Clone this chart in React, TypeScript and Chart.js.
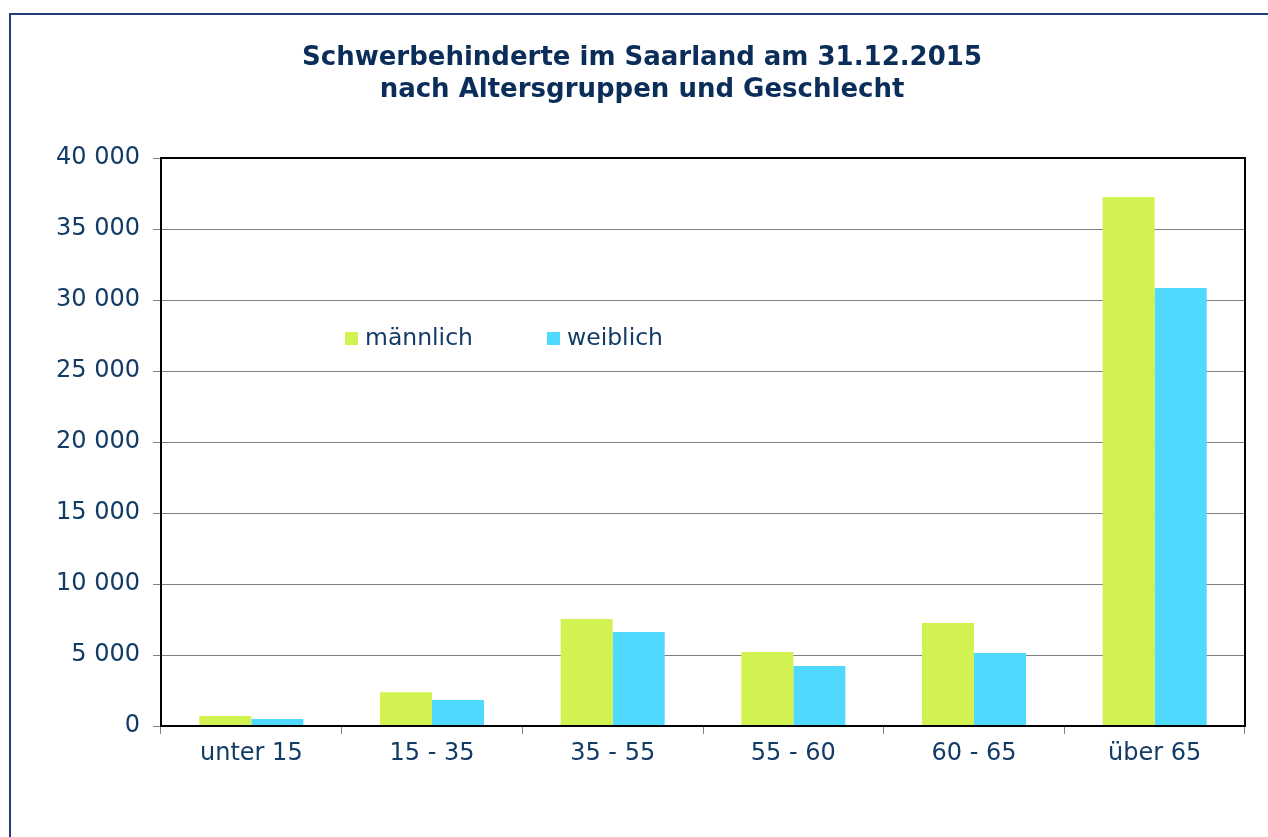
import React, { useEffect, useRef } from "react";
import { Chart, registerables } from "chart.js";

Chart.register(...registerables);

const categories = ["unter 15", "15 - 35", "35 - 55", "55 - 60", "60 - 65", "über 65"];
const seriesLabels = ["männlich", "weiblich"];
const maleValues = [700, 2380, 7540, 5220, 7250, 37260];
const femaleValues = [500, 1830, 6620, 4220, 5140, 30850];
const yTickValues = [0, 5000, 10000, 15000, 20000, 25000, 30000, 35000, 40000];
const titleLines = ["Schwerbehinderte im Saarland am 31.12.2015", "nach Altersgruppen und Geschlecht"];

const MALE_COLOR = "#d2f252";
const FEMALE_COLOR = "#50d9ff";
const TEXT_COLOR = "#123b66";
const TITLE_COLOR = "#0b2d59";
const FONT = "'DejaVu Sans', Verdana, sans-serif";

const formatThousands = (v: number) => String(v).replace(/\B(?=(\d{3})+(?!\d))/g, " ");

const framePlugin = {
  id: "frame",
  beforeDraw(chart: any) {
    const { ctx, width, height } = chart;
    ctx.save();
    ctx.fillStyle = "#ffffff";
    ctx.fillRect(0, 0, width, height);
    ctx.fillStyle = "#223f7c";
    ctx.fillRect(9, 13, 2, height - 13);
    ctx.fillRect(9, 13, width - 9, 2);
    ctx.restore();
  },
};

const titlePlugin = {
  id: "customTitle",
  afterDraw(chart: any) {
    const { ctx } = chart;
    ctx.save();
    ctx.fillStyle = TITLE_COLOR;
    ctx.font = `bold 26px ${FONT}`;
    ctx.textAlign = "center";
    ctx.textBaseline = "middle";
    titleLines.forEach((line, i) => ctx.fillText(line, 642, 58 + i * 32));
    ctx.restore();
  },
};

const plotBorderPlugin = {
  id: "plotBorder",
  afterDatasetsDraw(chart: any) {
    const { ctx, chartArea } = chart;
    ctx.save();
    ctx.strokeStyle = "#000000";
    ctx.lineWidth = 2;
    ctx.strokeRect(chartArea.left, chartArea.top, chartArea.right - chartArea.left, chartArea.bottom - chartArea.top);
    ctx.restore();
  },
};

const legendPlugin = {
  id: "customLegend",
  afterDraw(chart: any) {
    const { ctx, chartArea } = chart;
    const offsets = [184, 386];
    const cy = chartArea.top + 180;
    ctx.save();
    ctx.font = `23.5px ${FONT}`;
    ctx.textBaseline = "middle";
    ctx.textAlign = "left";
    chart.data.datasets.forEach((ds: any, i: number) => {
      const x = chartArea.left + offsets[i];
      ctx.fillStyle = ds.backgroundColor;
      ctx.fillRect(x, cy - 6, 13, 13);
      ctx.fillStyle = TEXT_COLOR;
      ctx.fillText(ds.label, x + 20, cy + 1);
    });
    ctx.restore();
  },
};

export default function App() {
  const canvasRef = useRef<HTMLCanvasElement | null>(null);

  useEffect(() => {
    if (!canvasRef.current) return;
    const chart = new Chart(canvasRef.current, {
      type: "bar",
      data: {
        labels: categories,
        datasets: [
          { label: seriesLabels[0], data: maleValues, backgroundColor: MALE_COLOR, borderWidth: 0, barPercentage: 1, categoryPercentage: 0.576 },
          { label: seriesLabels[1], data: femaleValues, backgroundColor: FEMALE_COLOR, borderWidth: 0, barPercentage: 1, categoryPercentage: 0.576 },
        ],
      },
      options: {
        responsive: false,
        animation: false,
        devicePixelRatio: 1,
        layout: { padding: { left: 16, right: 23, top: 158, bottom: 0 } },
        plugins: {
          legend: { display: false },
          title: { display: false },
          tooltip: { enabled: false },
        },
        scales: {
          x: {
            offset: true,
            grid: { display: true, drawOnChartArea: false, drawTicks: true, tickLength: 8, offset: true, color: "#7f7f7f" },
            border: { display: false },
            ticks: { color: TEXT_COLOR, font: { family: FONT, size: 24 }, padding: 5, maxRotation: 0 },
            afterFit: (scale: any) => { scale.height = 111; },
          },
          y: {
            min: 0,
            max: 40000,
            afterBuildTicks: (scale: any) => { scale.ticks = yTickValues.map((v) => ({ value: v })); },
            grid: { color: "#7f7f7f", lineWidth: 1, tickLength: 8 },
            border: { display: false },
            ticks: { color: TEXT_COLOR, font: { family: FONT, size: 24 }, padding: 13, callback: (v: any) => formatThousands(Number(v)) },
            afterFit: (scale: any) => { scale.width = 145; },
          },
        },
      },
      plugins: [framePlugin, plotBorderPlugin, legendPlugin, titlePlugin],
    });
    return () => chart.destroy();
  }, []);

  return (
    <canvas
      ref={canvasRef}
      width={1268}
      height={837}
      style={{ position: "fixed", left: 0, top: 0, width: 1268, height: 837, display: "block" }}
    />
  );
}
